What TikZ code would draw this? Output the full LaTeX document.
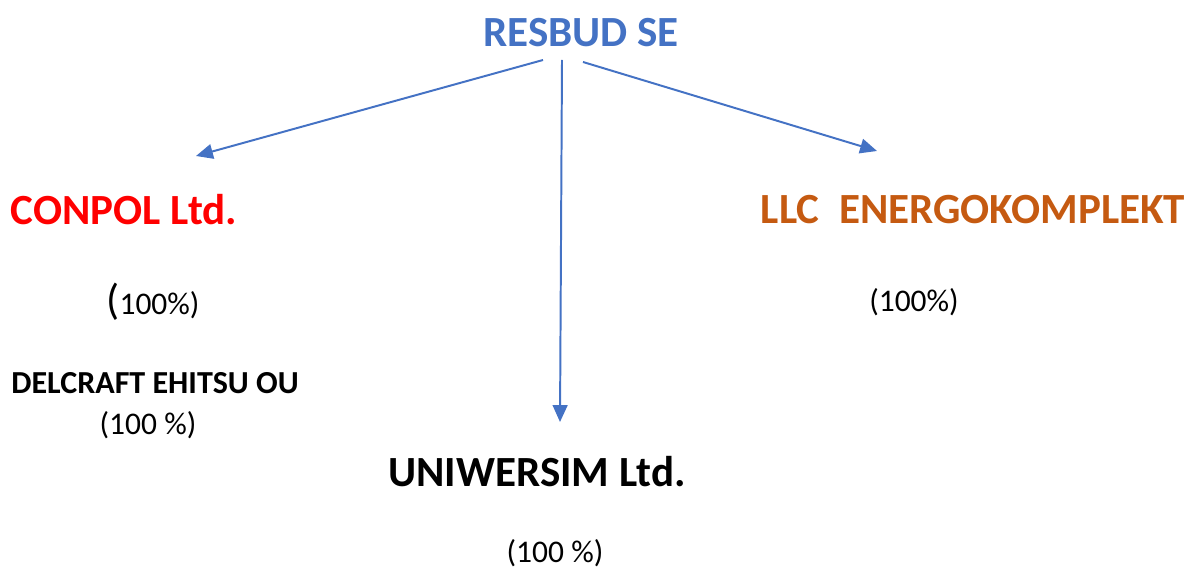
\documentclass[tikz,border=0pt]{standalone}
\usepackage{fontspec}
\setmainfont{Carlito}
\usetikzlibrary{arrows.meta}
\definecolor{resblue}{HTML}{4472C4}
\definecolor{conred}{HTML}{FF0000}
\definecolor{llcorange}{HTML}{C55A11}
\tikzset{
  firm/.style={font=\fontsize{30.6}{36}\selectfont\bfseries, inner sep=0pt},
  share/.style={font=\fontsize{22.4}{26}\selectfont, inner sep=0pt},
  link/.style={draw=resblue, line width=1.4pt, -{Triangle[length=12pt, width=10.5pt]}}
}
\begin{document}
\begin{tikzpicture}[x=0.025cm, y=-0.025cm]
        \useasboundingbox (0,0) rectangle (1187,570);
        \node[firm, text=resblue] (resbud) at (581, 33) {RESBUD SE};
        \node[firm, text=conred] (conpol) at (124, 210) {CONPOL Ltd.};
        \node[firm, text=llcorange] (energo) at (973, 210) {LLC\ \ ENERGOKOMPLEKT};
        \node[firm] (uniw) at (537, 472) {UNIWERSIM Ltd.};
        \node[share] (conpolsh) at (153, 302) {{\fontsize{30.6}{36}\selectfont(}100\%)};
        \node[share] (energosh) at (914, 302) {(100\%)};
        \node[font=\fontsize{22.8}{26}\selectfont\bfseries, inner sep=0pt] (delcraft) at (155, 383) {DELCRAFT EHITSU OU};
        \node[share] (delcraftsh) at (148, 425) {(100 \%)};
        \node[share] (uniwsh) at (555, 553) {(100 \%)};
        \coordinate (s1) at (543, 60);
        \coordinate (s2) at (562, 60);
        \coordinate (s3) at (583, 62);
        \coordinate (e1) at (196, 156);
        \coordinate (e2) at (560, 422);
        \coordinate (e3) at (877, 151);
        \draw[link] (s1) -- (e1);
        \draw[link] (s2) -- (e2);
        \draw[link] (s3) -- (e3);
        \end{tikzpicture}
\end{document}
